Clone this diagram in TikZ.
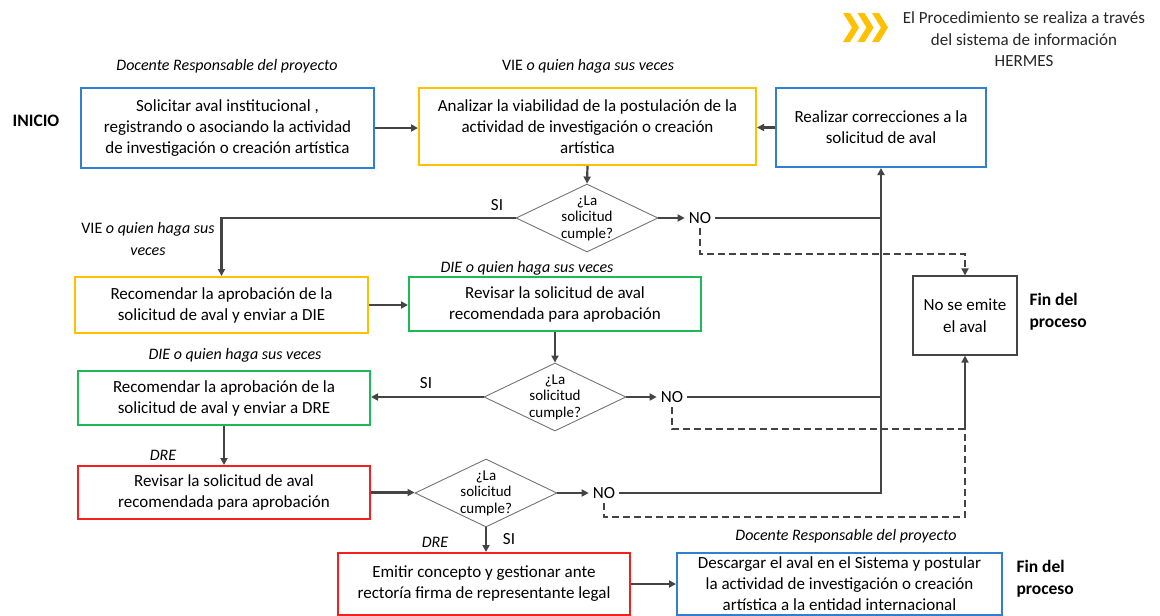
\documentclass[tikz,border=0pt]{standalone}
\usepackage{fontspec}
\setmainfont{Carlito}
\usetikzlibrary{arrows.meta,shapes.geometric,positioning}
\definecolor{azul}{HTML}{2F80D0}
\definecolor{oro}{HTML}{FFC000}
\definecolor{verde}{HTML}{1DB954}
\definecolor{rojo}{HTML}{F42020}
\definecolor{linea}{HTML}{444444}

\begin{document}
\begin{tikzpicture}[x=1pt,y=-1pt,
  caja/.style={draw=#1,line width=2pt,fill=white,align=center,inner sep=0pt,
    font=\fontsize{17}{21}\selectfont},
  rombo/.style={diamond,draw=black!55,line width=0.9pt,aspect=2.1,inner xsep=-8pt,inner ysep=-9pt,
    minimum width=142pt,minimum height=68pt,align=center,font=\fontsize{15}{16.5}\selectfont},
  rol/.style={font=\fontsize{16}{22}\selectfont\itshape,align=center},
  fin/.style={font=\fontsize{17.5}{22}\selectfont\bfseries,align=left},
  rotulo/.style={font=\fontsize{17}{18}\selectfont,inner sep=4pt},
  conector/.style={draw=linea,line width=2.2pt},
  flecha/.style={conector,-{Triangle[length=7pt,width=7pt]}},
  discont/.style={draw=linea,line width=2.2pt,dash pattern=on 7pt off 4pt}]
  \useasboundingbox (0,0) rectangle (1160,616);

  % leyenda
  \foreach \i in {0,1,2}
    \fill[oro] (843+14.5*\i,13) -- ++(7,0) -- ++(9,14.5) -- ++(-9,14.5) -- ++(-7,0) -- ++(9,-14.5) -- cycle;
  \node[font=\fontsize{17}{21.5}\selectfont,align=center,text=black!85] (nota) at (1024,39.5)
    {El Procedimiento se realiza a través\\del sistema de información\\HERMES};

  % responsables
  \node[rol] (rolSolicitar) at (227,66) {Docente Responsable del proyecto};
  \node[rol] (rolAnalizar) at (588,66) {\upshape VIE \itshape o quien haga sus veces};
  \node[rol] (rolRecomVIE) at (148,239) {\upshape VIE \itshape o quien haga sus\\veces};
  \node[rol] (rolRevDIE) at (527,268) {DIE o quien haga sus veces};
  \node[rol] (rolRecomDIE) at (235,355) {DIE o quien haga sus veces};
  \node[rol] (rolRevDRE) at (163,455) {DRE};
  \node[rol] (rolEmitir) at (435,542) {DRE};
  \node[rol] (rolDescargar) at (846,536) {Docente Responsable del proyecto};

  % actividades
  \node[fin] (inicio) at (36,121) {INICIO};
  \node[caja=azul,minimum width=293pt,minimum height=80pt] (solicitar) at (227.5,128)
    {Solicitar aval institucional ,\\registrando o asociando la actividad\\de investigación o creación artística};
  \node[caja=oro,minimum width=337pt,minimum height=77pt] (analizar) at (587.5,126.5)
    {Analizar la viabilidad de la postulación de la\\actividad de investigación o creación\\artística};
  \node[caja=azul,minimum width=210pt,minimum height=79pt] (corregir) at (881,127.5)
    {Realizar correcciones a la\\solicitud de aval};
  \node[caja=oro,minimum width=293pt,minimum height=56pt] (recomVIE) at (221.5,305)
    {Recomendar la aprobación de la\\solicitud de aval y enviar a DIE};
  \node[caja=verde,minimum width=292pt,minimum height=54pt] (revDIE) at (555,304)
    {Revisar la solicitud de aval\\recomendada para aprobación};
  \node[caja=verde,minimum width=292pt,minimum height=54pt] (recomDIE) at (224,398)
    {Recomendar la aprobación de la\\solicitud de aval y enviar a DRE};
  \node[caja=rojo,minimum width=292pt,minimum height=53pt] (revDRE) at (224,492.5)
    {Revisar la solicitud de aval\\recomendada para aprobación};
  \node[caja=rojo,minimum width=292pt,minimum height=62pt] (emitir) at (484,584)
    {Emitir concepto y gestionar ante\\rectoría firma de representante legal};
  \node[caja=azul,minimum width=325pt,minimum height=62pt] (descargar) at (839.5,583.5)
    {Descargar el aval en el Sistema y postular\\la actividad de investigación o creación\\artística a la entidad internacional};
  \node[draw=linea,line width=1.2pt,minimum width=104pt,minimum height=79pt,align=center,
    font=\fontsize{17}{22}\selectfont] (noaval) at (965,315.5) {No se emite\\el aval};
  \node[fin,anchor=west] (fin1) at (1026,312) {Fin del\\proceso};
  \node[fin,anchor=west] (fin2) at (1013,579) {Fin del\\proceso};

  % decisiones
  \node[rombo] (cumple1) at (587,218) {¿La\\solicitud\\cumple?};
  \node[rombo] (cumple2) at (555,397) {¿La\\solicitud\\cumple?};
  \node[rombo] (cumple3) at (486,493) {¿La\\solicitud\\cumple?};
  \node[rotulo] (no1) at (700,218) {NO};
  \node[rotulo] (no2) at (672,397) {NO};
  \node[rotulo] (no3) at (604,493) {NO};
  \node[rotulo] (si1) at (497,205) {SI};
  \node[rotulo] (si2) at (426,383) {SI};
  \node[rotulo] (si3) at (509,539) {SI};

  % flujo principal
  \draw[flecha] (solicitar.east) -- (solicitar.east -| analizar.west);
  \draw[flecha] (corregir.west) -- (corregir.west -| analizar.east);
  \draw[flecha] (analizar.south) -- (cumple1.north);
  \draw[flecha] (cumple1.west) -| (recomVIE.north);          % SI
  \draw[flecha] (cumple1.east) -- (no1.west);
  \draw[conector] (no1.east) -- (no1.east -| corregir.south);
  \draw[flecha] (recomVIE.east) -- (recomVIE.east -| revDIE.west);
  \draw[flecha] (revDIE.south) -- (cumple2.north);
  \draw[flecha] (cumple2.west) -- (cumple2.west -| recomDIE.east); % SI
  \draw[flecha] (cumple2.east) -- (no2.west);
  \draw[conector] (no2.east) -- (no2.east -| corregir.south);
  \draw[flecha] (recomDIE.south) -- (revDRE.north);
  \draw[flecha] (revDRE.east) -- (revDRE.east -| cumple3.west);
  \draw[flecha] (cumple3.east) -- (no3.west);
  \draw[flecha] (no3.east) -| (corregir.south);              % vuelve a correcciones
  \draw[flecha] (cumple3.south) -- (cumple3.south |- emitir.north); % SI
  \draw[flecha] (emitir.east) -- (emitir.east -| descargar.west);

  % rechazo
  \coordinate (baja1) at (965,254);
  \coordinate (junta) at (965,429);
  \coordinate (baja3) at (965,517);
  \draw[discont,-{Triangle[length=7pt,width=7pt]}] (no1.south) |- (baja1) -- (noaval.north);
  \draw[discont] (no2.south) |- (junta);
  \draw[discont] (no3.south) |- (baja3) -- (junta);
  \draw[flecha] (junta) -- (noaval.south);
\end{tikzpicture}
\end{document}
